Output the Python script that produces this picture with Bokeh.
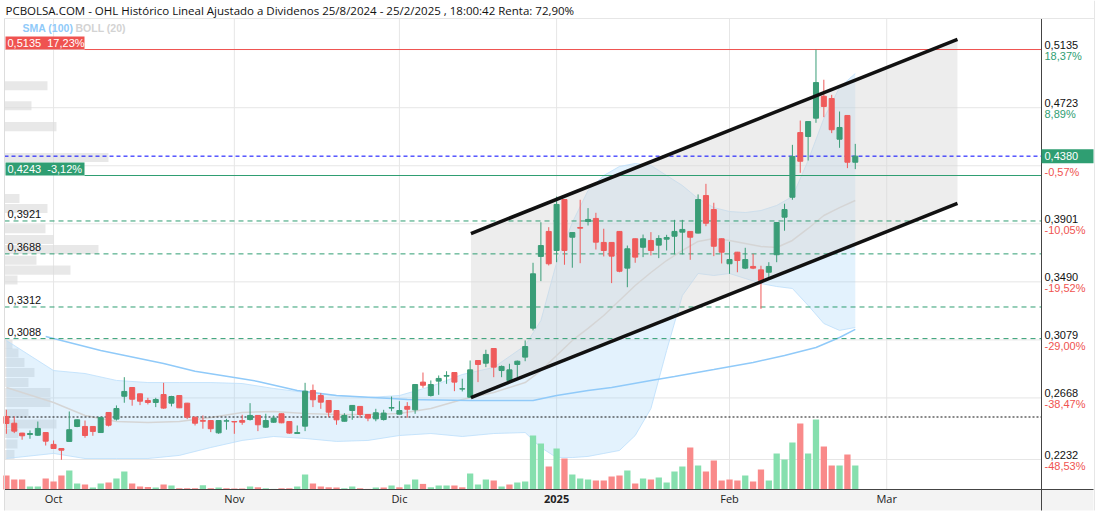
from bokeh.plotting import figure
from bokeh.models import Range1d
from bokeh.core.properties import value
from bokeh.embed import file_html
from bokeh.resources import INLINE

# ---------------- data ----------------
# bar index 0 = 23 Sep 2024 ... 108 = 25 Feb 2025 (trading days)
opens = [0.2537,0.2489,0.2419,0.2409,0.2404,0.2423,0.2339,0.2310,0.2360,0.2466,
         0.2466,0.2466,0.2423,0.2565,0.2518,0.2680,0.2742,0.2697,0.2650,0.2636,
         0.2692,0.2631,0.2685,0.2631,0.2532,0.2508,0.2508,0.2421,0.2504,0.2501,
         0.2508,0.2515,0.2544,0.2461,0.2496,0.2556,0.2501,0.2416,0.2468,0.2721,
         0.2685,0.2650,0.2579,0.2503,0.2579,0.2608,0.2551,0.2520,0.2515,0.2596,
         0.2553,0.2608,0.2584,0.2780,0.2685,0.2787,0.2822,0.2848,0.2731,0.2673,
         0.2933,0.2914,0.3018,0.2862,0.2792,0.2905,0.2957,0.3162,0.3670,0.3847,
         0.3712,0.4073,0.3806,0.3875,0.3917,0.3939,0.3769,0.3769,0.3847,0.3587,
         0.3795,0.3735,0.3783,0.3750,0.3792,0.3813,0.3842,0.3847,0.3835,0.4101,
         0.4002,0.3795,0.3618,0.3700,0.3587,0.3599,0.3575,0.3558,0.3682,0.3948,
         0.4089,0.4547,0.4519,0.4649,0.4804,0.4788,0.4500,0.4668,0.4337]
highs = [0.2584,0.2537,0.2421,0.2438,0.2501,0.2425,0.2367,0.2312,0.2572,0.2515,
         0.2508,0.2468,0.2532,0.2567,0.2615,0.2815,0.2744,0.2699,0.2669,0.2669,
         0.2775,0.2683,0.2687,0.2633,0.2534,0.2544,0.2510,0.2510,0.2520,0.2502,
         0.2549,0.2631,0.2546,0.2556,0.2544,0.2558,0.2503,0.2473,0.2775,0.2763,
         0.2702,0.2652,0.2581,0.2560,0.2617,0.2610,0.2553,0.2591,0.2584,0.2678,
         0.2645,0.2638,0.2765,0.2848,0.2792,0.2827,0.2857,0.2850,0.2804,0.2933,
         0.2935,0.3009,0.3020,0.2898,0.2910,0.2933,0.3075,0.3625,0.3912,0.3877,
         0.4094,0.4075,0.3841,0.4071,0.4012,0.3979,0.3866,0.3771,0.3849,0.3747,
         0.3797,0.3825,0.3842,0.3820,0.3823,0.3929,0.3929,0.3849,0.4109,0.4184,
         0.4050,0.3797,0.3774,0.3702,0.3731,0.3689,0.3604,0.3629,0.3912,0.4043,
         0.4460,0.4632,0.4627,0.5135,0.4921,0.4814,0.4696,0.4670,0.4467]
lows = [0.2414,0.2419,0.2372,0.2379,0.2400,0.2331,0.2308,0.2230,0.2358,0.2461,
        0.2386,0.2400,0.2421,0.2466,0.2508,0.2634,0.2613,0.2617,0.2622,0.2603,
        0.2591,0.2608,0.2596,0.2518,0.2473,0.2450,0.2426,0.2414,0.2443,0.2414,
        0.2478,0.2508,0.2433,0.2457,0.2492,0.2489,0.2414,0.2414,0.2433,0.2603,
        0.2591,0.2532,0.2478,0.2501,0.2513,0.2528,0.2503,0.2503,0.2508,0.2574,
        0.2551,0.2528,0.2556,0.2740,0.2678,0.2690,0.2768,0.2716,0.2714,0.2669,
        0.2780,0.2886,0.2815,0.2815,0.2790,0.2815,0.2928,0.3146,0.3495,0.3606,
        0.3629,0.3611,0.3590,0.3622,0.3889,0.3719,0.3670,0.3481,0.3558,0.3452,
        0.3625,0.3665,0.3677,0.3658,0.3712,0.3684,0.3684,0.3646,0.3833,0.3884,
        0.3672,0.3620,0.3547,0.3558,0.3580,0.3580,0.3299,0.3523,0.3629,0.3852,
        0.4071,0.4262,0.4349,0.4616,0.4656,0.4543,0.4439,0.4295,0.4288]
closes = [0.2487,0.2433,0.2400,0.2416,0.2452,0.2362,0.2310,0.2298,0.2443,0.2513,
          0.2402,0.2431,0.2530,0.2475,0.2593,0.2714,0.2659,0.2645,0.2636,0.2657,
          0.2596,0.2678,0.2598,0.2532,0.2489,0.2503,0.2450,0.2508,0.2506,0.2498,
          0.2496,0.2544,0.2478,0.2508,0.2525,0.2492,0.2419,0.2423,0.2716,0.2655,
          0.2638,0.2567,0.2513,0.2544,0.2615,0.2551,0.2525,0.2563,0.2561,0.2600,
          0.2579,0.2588,0.2763,0.2758,0.2763,0.2806,0.2827,0.2780,0.2733,0.2867,
          0.2905,0.2976,0.2886,0.2891,0.2867,0.2928,0.3032,0.3547,0.3747,0.3618,
          0.4038,0.3712,0.3839,0.3870,0.3932,0.3771,0.3712,0.3672,0.3565,0.3724,
          0.3665,0.3795,0.3712,0.3797,0.3804,0.3847,0.3861,0.3806,0.4073,0.3905,
          0.3742,0.3700,0.3648,0.3641,0.3648,0.3587,0.3500,0.3599,0.3910,0.4002,
          0.4378,0.4344,0.4625,0.4901,0.4732,0.4567,0.4583,0.4337,0.4380]
volumes_m = [7, 5, 5, 1.5, 1.5, 5.5, 4, 7, 9.5, 3,
             2.5, 1, 3, 3.5, 5.5, 9, 3, 1.5, 1.2, 1,
             2.5, 2, 0.6, 0.6, 0.6, 2.1, 0.6, 1, 0.6, 0.5,
             0.5, 1.5, 1.1, 0.6, 0.3, 0.6, 0.6, 1.5, 7.5, 3,
             1.5, 1.1, 1, 0.6, 1.5, 0.6, 0.3, 1, 1, 2,
             1.1, 2.5, 5, 2.8, 1.1, 2, 2, 2, 1.1, 8,
             2.5, 5, 4.5, 1.5, 2.5, 3.5, 4, 27, 23, 11.5,
             20.5, 15.5, 7.5, 5.5, 5, 4.5, 4.5, 6.5, 7, 9.5,
             3, 5.5, 5, 6, 3.5, 9, 11.5, 21, 12, 9,
             14.5, 4.5, 5, 4.5, 7, 4, 10, 4.5, 18, 15,
             23.5, 33, 18, 35, 21.5, 12, 12, 17.5, 12]

# month ticks (bar index of first session of each month)
month_idx = [6, 29, 50, 70, 92, 112]
month_lbl = ["Oct", "Nov", "Dic", "2025", "Feb", "Mar"]

# SMA(100) read at sample bars
sma_idx = [5, 12, 20, 24, 29, 32, 37, 42, 49, 51, 59, 67, 70, 74, 77, 82, 85, 90, 95, 99, 103, 106, 108]
sma_val = [0.3103, 0.3004, 0.2912, 0.2857, 0.2813, 0.2785, 0.2721, 0.2685, 0.2664, 0.2657, 0.2650, 0.2650,
           0.2685, 0.2721, 0.2742, 0.2792, 0.2820, 0.2869, 0.2919, 0.2969, 0.3025, 0.3096, 0.3153]

# Bollinger (20) read at sample bars
bb_idx = [0, 6, 10, 14, 18, 22, 26, 30, 34, 38, 42, 46, 50, 54, 58, 62, 66, 68, 70, 72,
          74, 76, 78, 80, 82, 84, 86, 88, 90, 92, 94, 96, 98, 100, 102, 104, 106, 108]
bb_upper = [0.3075, 0.2862, 0.2841, 0.2792, 0.2777, 0.2777, 0.2777, 0.2770, 0.2735, 0.2707,
            0.2685, 0.2671, 0.2685, 0.2749, 0.2834, 0.2884, 0.3039, 0.3216, 0.3627, 0.3910,
            0.4137, 0.4243, 0.4307, 0.4328, 0.4314, 0.4243, 0.4172, 0.4080, 0.4016, 0.3988,
            0.3981, 0.3995, 0.4031, 0.4094, 0.4349, 0.4647, 0.4866, 0.4965]
bb_lower = [0.2239, 0.2275, 0.2239, 0.2239, 0.2239, 0.2261, 0.2317, 0.2367, 0.2395, 0.2381,
            0.2360, 0.2367, 0.2402, 0.2416, 0.2395, 0.2416, 0.2423, 0.2317, 0.2246, 0.2246,
            0.2254, 0.2275, 0.2296, 0.2402, 0.2593, 0.3004, 0.3393, 0.3549, 0.3535, 0.3549,
            0.3514, 0.3478, 0.3457, 0.3443, 0.3323, 0.3195, 0.3146, 0.3167]
bb_mid = [0.2742, 0.2636, 0.2544, 0.2501, 0.2494, 0.2501, 0.2530, 0.2565, 0.2572, 0.2558,
          0.2551, 0.2551, 0.2558, 0.2593, 0.2657, 0.2707, 0.2777, 0.2862, 0.2969, 0.3075,
          0.3160, 0.3252, 0.3358, 0.3464, 0.3556, 0.3641, 0.3712, 0.3776, 0.3797, 0.3783,
          0.3762, 0.3740, 0.3733, 0.3783, 0.3868, 0.3960, 0.4016, 0.4066]

# volume-by-price profile (price level, volume M)
vp_price = [0.4878, 0.4737, 0.4589, 0.4370, 0.4080, 0.4009, 0.3866, 0.3790, 0.3719, 0.3643, 0.3573, 0.3503,
            0.3046, 0.2986, 0.2919, 0.2848, 0.2778, 0.2707, 0.2636, 0.2558, 0.2484, 0.2416, 0.2342, 0.2268]
vp_vol = [10.75, 6.75, 13, 26, 3.75, 10.75, 10.25, 12.25, 23.5, 8, 16.5, 3.25,
          2, 3.5, 5, 7.5, 6, 11.5, 11.5, 6, 13, 3.5, 3.25, 2.5]

# drawn trend channel
chan_x = [59.1, 121.0]
chan_top = [0.3832, 0.5206]
chan_bot = [0.2671, 0.4045]

# horizontal levels
level_vals = [0.3921, 0.3688, 0.3312, 0.3088]
level_lbls = ["0,3921", "0,3688", "0,3312", "0,3088"]
NB = "\u00a0"
max_level, max_lbl = 0.5135, "0,5135" + NB + NB + "17,23%"
ref_level, ref_lbl = 0.4243, "0,4243" + NB + NB + "-3,12%"
start_level = 0.2533
last_lbl = "0,4380"

axis_ticks = [0.5135, 0.4723, 0.4312, 0.3901, 0.3490, 0.3079, 0.2668, 0.2232]
axis_price = ["0,5135", "0,4723", "", "0,3901", "0,3490", "0,3079", "0,2668", "0,2232"]
axis_pct = ["18,37%", "8,89%", "-0,57%", "-10,05%", "-19,52%", "-29,00%", "-38,47%", "-48,53%"]

title = "PCBOLSA.COM - OHL Histórico Lineal Ajustado a Dividenos 25/8/2024 - 25/2/2025 , 18:00:42 Renta: 72,90%"

# ---------------- layout helpers ----------------
W, H = 1096, 512
X0, DX = 5.9, 7.86          # px of bar 0, px per bar
PY = 1412.3                 # px per price unit
P_TOP = 0.4243 + 175 / PY   # price at the top edge of the canvas


def xi(px):
    return (px - X0) / DX


def yp(py):
    return P_TOP - py / PY


def dy(px):
    return px / PY


FL, FR, FT, FB = 4, 1041, 18, 489
UP, DN = "#3a9d77", "#ef5b5b"
VUP, VDN = "#86dfae", "#f98a8a"
TEAL = "#2f9e72"
FONT = value("Liberation Sans")
TFONT = value("Open Sans")

p = figure(width=W, height=H, x_range=Range1d(xi(0), xi(W)), y_range=Range1d(yp(H), yp(0)),
           output_backend="svg", toolbar_location=None, x_axis_location=None,
           y_axis_location=None, min_border=0, outline_line_color=None)
p.xgrid.visible = False
p.ygrid.visible = False
p.background_fill_color = "white"
p.border_fill_color = "white"
p.extra_y_ranges = {"vol": Range1d(-(H - FB) / 2.0, FB / 2.0)}
p.extra_x_ranges = {"prof": Range1d(-FL / 4.0, (W - FL) / 4.0)}

x_left, x_right = xi(FL), xi(FR)

# x-axis band
p.quad(left=[x_left], right=[xi(1093)], bottom=[yp(510)], top=[yp(FB)],
       fill_color="#f3f3f3", line_color=None)

# grid
p.segment(x0=[x_left] * len(axis_ticks), x1=[x_right] * len(axis_ticks), y0=axis_ticks, y1=axis_ticks,
          line_color="#e6e6e6", line_width=1)
p.segment(x0=month_idx, x1=month_idx, y0=[yp(FT)] * len(month_idx), y1=[yp(FB)] * len(month_idx),
          line_color="#e6e6e6", line_width=1)

# volume profile
p.hbar(y=vp_price, left=0, right=vp_vol, height=0.0064, x_range_name="prof",
       fill_color="#dcdcdc", fill_alpha=0.65, line_color=None)

# Bollinger fill
p.varea(x=bb_idx, y1=bb_lower, y2=bb_upper, fill_color="#90caf9", fill_alpha=0.25)
p.line(bb_idx, bb_upper, line_color="#bbdefb", line_width=1, line_alpha=0.8)
p.line(bb_idx, bb_lower, line_color="#bbdefb", line_width=1, line_alpha=0.8)

# channel fill
p.patch(x=[chan_x[0], chan_x[1], chan_x[1], chan_x[0]],
        y=[chan_bot[0], chan_bot[1], chan_top[1], chan_top[0]],
        fill_color="#d6d6d6", fill_alpha=0.45, line_color=None)

# indicator lines
p.line(bb_idx, bb_mid, line_color="#d5d5d5", line_width=1.5)
p.line(sma_idx, sma_val, line_color="#90caf9", line_width=1.5)

# horizontal levels
p.segment(x0=[x_left] * 4, x1=[x_right] * 4, y0=level_vals, y1=level_vals,
          line_color=TEAL, line_width=1, line_dash="5 4")
p.segment(x0=[xi(84)], x1=[x_right], y0=[max_level], y1=[max_level], line_color="#ef5350", line_width=1)
p.segment(x0=[xi(84)], x1=[x_right], y0=[ref_level], y1=[ref_level], line_color=TEAL, line_width=1)
p.segment(x0=[x_left], x1=[x_right], y0=[closes[-1]], y1=[closes[-1]],
          line_color="#0000ff", line_width=1, line_dash="4 3")
p.segment(x0=[x_left], x1=[x_right], y0=[start_level], y1=[start_level],
          line_color="#111111", line_width=1, line_dash="2 2")

# volume
idx = list(range(len(closes)))
vcol = [VDN] + [VUP if closes[i] >= closes[i - 1] else VDN for i in range(1, len(closes))]
p.vbar(x=idx, top=volumes_m, bottom=0, width=0.8, y_range_name="vol", fill_color=vcol, line_color=None)

# candles
ccol = [UP if c >= o else DN for o, c in zip(opens, closes)]
p.segment(x0=idx, x1=idx, y0=lows, y1=highs, line_color=ccol, line_width=1)
p.vbar(x=idx, top=[max(o, c) for o, c in zip(opens, closes)], bottom=[min(o, c) for o, c in zip(opens, closes)],
       width=0.64, fill_color=ccol, line_color=ccol, line_width=1)

# channel lines
p.line(chan_x, chan_top, line_color="#111111", line_width=3.5)
p.line(chan_x, chan_bot, line_color="#111111", line_width=3.5)

# frame lines
p.segment(x0=[x_right], x1=[x_right], y0=[yp(FT)], y1=[yp(510)], line_color="#444444", line_width=1)
p.segment(x0=[x_left], x1=[xi(1093)], y0=[yp(FB)], y1=[yp(FB)], line_color="#444444", line_width=1)
p.segment(x0=[x_left], x1=[x_left], y0=[yp(FT)], y1=[yp(510)], line_color="#dddddd", line_width=1)
p.segment(x0=[x_left], x1=[xi(1094)], y0=[yp(FT)], y1=[yp(FT)], line_color="#e6e6e6", line_width=1)
p.segment(x0=[xi(1094)], x1=[xi(1094)], y0=[yp(0)], y1=[yp(510)], line_color="#e6e6e6", line_width=1)

# boxes
p.quad(left=[xi(5)], right=[xi(84)], bottom=[max_level], top=[max_level + dy(13)], fill_color="#ef5350", line_color=None)
p.quad(left=[xi(5)], right=[xi(84)], bottom=[ref_level], top=[ref_level + dy(13)], fill_color=TEAL, line_color=None)

# texts
p.text(x=[xi(5)], y=[yp(10)], text=[title], text_font=TFONT, text_font_size="11.5px",
       text_color="#111111", text_baseline="middle")
p.text(x=[xi(22)], y=[yp(27)], text=["SMA (100)"], text_font=FONT, text_font_size="10.5px",
       text_font_style="bold", text_color="#90caf9", text_baseline="middle")
p.text(x=[xi(75)], y=[yp(27)], text=["BOLL (20)"], text_font=FONT, text_font_size="10.5px",
       text_font_style="bold", text_color="#d3d3d3", text_baseline="middle")
p.text(x=[xi(7), xi(7)], y=[max_level + dy(6.5), ref_level + dy(6.5)], text=[max_lbl, ref_lbl],
       text_font=FONT, text_font_size="11px", text_color="white", text_baseline="middle")
p.text(x=[xi(7)] * 4, y=[v + dy(7) for v in level_vals], text=level_lbls,
       text_font=FONT, text_font_size="11px", text_color="#111111", text_baseline="middle")

p.text(x=[xi(1044)] * len(axis_ticks), y=[v + dy(5) for v in axis_ticks], text=axis_price,
       text_font=FONT, text_font_size="11px", text_color="#111111", text_baseline="middle")
pct_col = [TEAL if not s.startswith("-") else "#ef5350" for s in axis_pct]
p.text(x=[xi(1044)] * len(axis_ticks), y=[v - dy(6) for v in axis_ticks], text=axis_pct,
       text_font=FONT, text_font_size="11px", text_color=pct_col, text_baseline="middle")

p.quad(left=[x_right], right=[xi(1093)], bottom=[closes[-1] - dy(7)], top=[closes[-1] + dy(7)],
       fill_color=TEAL, line_color=None)
p.text(x=[xi(1044)], y=[closes[-1]], text=[last_lbl], text_font=FONT, text_font_size="11px",
       text_color="white", text_baseline="middle")

reg = [i for i, s in enumerate(month_lbl) if s != "2025"]
p.text(x=[month_idx[i] for i in reg], y=[yp(498)] * len(reg), text=[month_lbl[i] for i in reg],
       text_font=TFONT, text_font_size="11px", text_color="#222222", text_align="center", text_baseline="middle")
p.text(x=[month_idx[3]], y=[yp(498)], text=[month_lbl[3]], text_font=TFONT, text_font_size="11px",
       text_font_style="bold", text_color="#222222", text_align="center", text_baseline="middle")

open("out.html", "w").write(file_html(p, INLINE))
